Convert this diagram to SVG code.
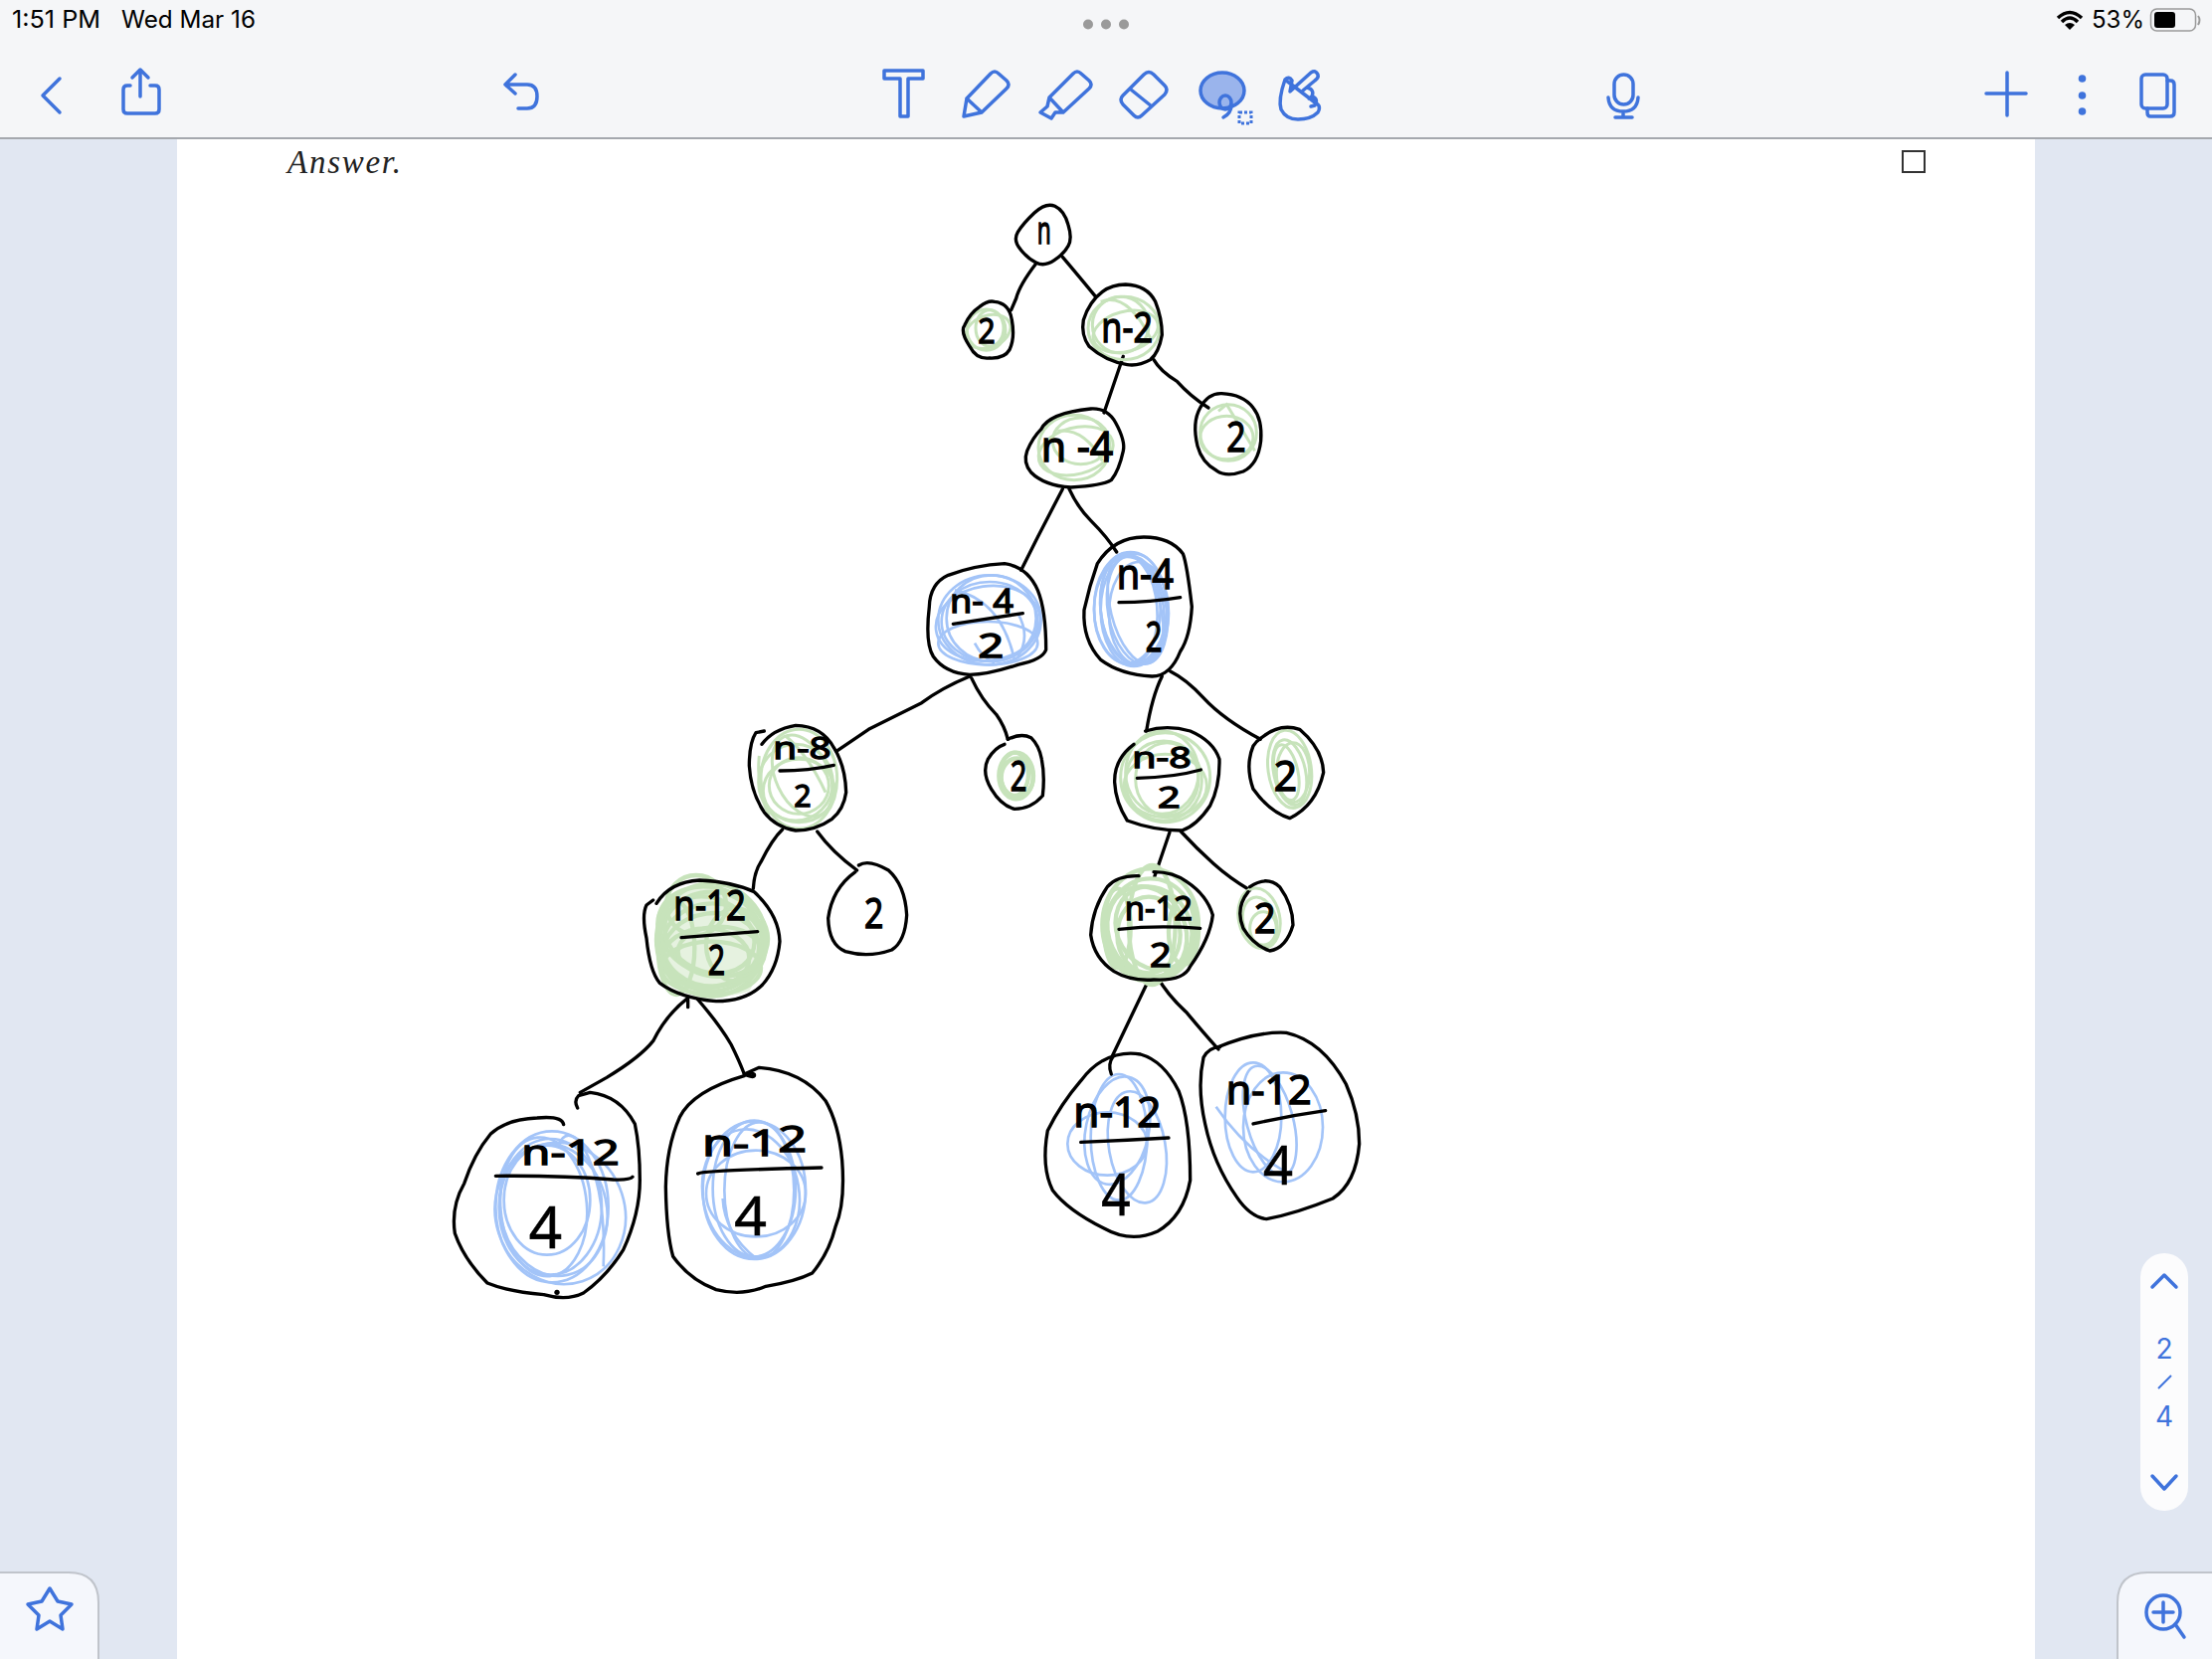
<svg xmlns="http://www.w3.org/2000/svg" width="2224" height="1668" viewBox="0 0 2224 1668">
<style>
.i{fill:none;stroke:#3f73dc;stroke-width:3.5;stroke-linecap:round;stroke-linejoin:round}
.ui{font-family:"Inter","Roboto",sans-serif;fill:#000}
.pg{font-family:"Inter","Roboto",sans-serif;fill:#3f73dc;font-size:28px;text-anchor:middle}
.o{fill:none;stroke:#000;stroke-width:10;stroke-linecap:round;stroke-linejoin:round}
.g ellipse,.g path{fill:none;stroke:#c7e3bb;stroke-width:9}
.b ellipse,.b path{fill:none;stroke:#a3c4f8;stroke-width:8}
.d ellipse{stroke-width:13}
.t{font-family:"Noto Sans",sans-serif;fill:#000;stroke:#000;stroke-width:4;font-size:125px}
</style>
<rect x="0" y="0" width="2224" height="1668" fill="#e1e7f2"/>
<rect x="178" y="139" width="1868" height="1529" fill="#fff"/>
<rect x="0" y="0" width="2224" height="139" fill="#f5f6f8"/>
<rect x="0" y="138" width="2224" height="2" fill="#a5a8ae"/>
<g id="status">
<text class="ui" x="12" y="28" font-size="24" textLength="89" lengthAdjust="spacingAndGlyphs">1:51 PM</text>
<text class="ui" x="122" y="28" font-size="24" textLength="135" lengthAdjust="spacingAndGlyphs">Wed Mar 16</text>
<circle cx="1094" cy="24.5" r="5" fill="#9a9a9a"/><circle cx="1112" cy="24.5" r="5" fill="#9a9a9a"/><circle cx="1130" cy="24.5" r="5" fill="#9a9a9a"/>
<path d="M2069,18 Q2081,7 2093,18 M2073,22 Q2081,14 2089,22" fill="none" stroke="#000" stroke-width="3.5"/><path d="M2076,25 Q2081,21 2086,25 L2081,30Z" fill="#000"/>
<text class="ui" x="2103" y="28" font-size="24" textLength="53" lengthAdjust="spacingAndGlyphs">53%</text>
<rect x="2162.5" y="9" width="45" height="22" rx="6" fill="none" stroke="#9a9a9a" stroke-width="1.5"/>
<rect x="2166" y="12" width="21" height="16" rx="3" fill="#000"/>
<path d="M2210,16 Q2213,20 2210,25" fill="none" stroke="#9a9a9a" stroke-width="2"/>
</g>
<g id="toolbar">
<path class="i" d="M60,79 L43,96 L60,113"/>
<path class="i" d="M141,97 V70 M133,78 L141,70 L149,78 M131,86 H128 Q124,86 124,90 V110 Q124,114 128,114 H156 Q160,114 160,110 V90 Q160,86 156,86 H151"/>
<path class="i" d="M518,75 L508,85 L518,94 M508,85 H530 Q540,85 540,97 Q540,109 530,109 H521"/>
<path class="i" d="M889,71 H928 V79 H913 V117 H905 V79 H889Z"/>
<path class="i" d="M972,99 L996,74 Q1000,70 1004,74 L1012,81 Q1016,85 1012,89 L987,113 L969,117 Z M972,99 L987,113"/>
<path class="i" d="M1055,98 L1079,74 Q1083,70 1087,74 L1095,81 Q1099,85 1095,89 L1069,113 L1061,113 L1057,119 L1046,113 L1053,107 Z M1055,98 L1069,113"/>
<path class="i" d="M1150,75 Q1155,70 1160,75 L1171,86 Q1175,90 1171,95 L1148,116 Q1144,120 1140,116 L1129,105 Q1125,100 1129,96 Z M1137,90 L1158,107"/>
<ellipse cx="1229" cy="91" rx="22" ry="18" fill="#9ab4ec" stroke="#3f73dc" stroke-width="3.5"/>
<ellipse class="i" cx="1232" cy="103" rx="6" ry="7"/><path class="i" d="M1238,105 Q1238,114 1230,118"/>
<rect x="1246" y="113" width="12" height="11" fill="none" stroke="#3f73dc" stroke-width="3" stroke-dasharray="3 2"/>
<path class="i" d="M1292,80 Q1296,76 1299,81 L1297,92 L1318,73 Q1323,70 1325,75 Q1326,78 1322,81 L1310,91 M1314,88 Q1322,90 1319,97 L1316,99 M1319,97 Q1326,99 1322,106 L1318,107 M1322,103 Q1329,106 1325,113 Q1318,120 1305,120 Q1293,120 1288,110 Q1285,100 1292,80Z"/>
<rect class="i" x="1623" y="75" width="19" height="30" rx="9.5"/>
<path class="i" d="M1617,98 Q1618,112 1632,112 Q1646,112 1647,98 M1632,112 V118 M1624,118 H1641"/>
<path class="i" d="M2018,73 V116 M1997,94 H2037"/>
<circle cx="2093.5" cy="79" r="3.8" fill="#3f73dc"/><circle cx="2093.5" cy="96" r="3.8" fill="#3f73dc"/><circle cx="2093.5" cy="112" r="3.8" fill="#3f73dc"/>
<rect class="i" x="2153" y="75" width="26" height="34" rx="4"/>
<path class="i" d="M2179,81 H2182 Q2186,81 2186,85 V113 Q2186,117 2182,117 H2162 Q2159,117 2159,113 V109"/>
</g>
<text x="289" y="174" font-family="'Liberation Serif',serif" font-style="italic" font-size="33" textLength="114" lengthAdjust="spacing" fill="#222">Answer.</text>
<rect x="1913" y="152" width="22" height="21" fill="none" stroke="#333" stroke-width="2"/>
<g id="page-indicator">
<rect x="2152" y="1260" width="48" height="259" rx="24" fill="#fcfcfd"/>
<path class="i" d="M2164,1294 L2176,1282 L2188,1294 M2164,1484 L2176,1497 L2188,1484"/>
<path d="M2170,1396 L2183,1383" stroke="#3f73dc" stroke-width="2" fill="none"/>
<text class="pg" x="2176" y="1366">2</text>
<text class="pg" x="2176" y="1434">4</text>
</g>
<g id="zoom-button">
<path d="M2224,1581 H2159 Q2129,1581 2129,1611 V1668 H2224Z" fill="#f5f7fc"/>
<path d="M2224,1581 H2159 Q2129,1581 2129,1611 V1668" fill="none" stroke="#c0c4cb" stroke-width="2"/>
<circle class="i" cx="2175" cy="1621" r="17"/>
<path class="i" d="M2165,1621 H2185 M2175,1611 V1631 M2187,1633 L2196,1646"/>
</g>
<g id="star-button">
<path d="M0,1581 H69 Q99,1581 99,1611 V1668 H0Z" fill="#f5f7fc"/>
<path d="M0,1581 H69 Q99,1581 99,1611 V1668" fill="none" stroke="#c0c4cb" stroke-width="2"/>
<path class="i" d="M50,1597 L58,1610 L72,1613 L61,1624 L63,1638 L50,1630 L37,1638 L39,1624 L28,1613 L42,1610Z"/>
</g>

<g id="connectors">
<g transform="translate(900,190) scale(.33333)">
<path class="o" d="M425,225 Q375,290 365,330 L350,365"/>
<path class="o" d="M505,205 Q560,270 605,325"/>
<path class="o" d="M688,505 L630,675"/>
<path class="o" d="M780,515 Q800,550 850,580 Q890,625 945,660"/>
<path class="o" d="M505,905 L430,1050 L380,1150"/>
<path class="o" d="M525,905 Q550,960 590,1000 Q640,1050 668,1095"/>
</g>
<g transform="translate(640,680) scale(.33333)">
<path class="o" d="M1005,0 Q920,35 860,80 Q770,125 700,160 L605,225"/>
<path class="o" d="M1010,5 Q1040,70 1085,115 Q1110,150 1120,190"/>
<path class="o" d="M440,462 Q410,490 375,560 Q355,590 352,640"/>
<path class="o" d="M545,468 Q590,530 665,585"/>
</g>
<g transform="translate(1080,670) scale(.33333)">
<path class="o" d="M265,30 Q235,90 218,195"/>
<path class="o" d="M290,15 Q340,40 390,95 Q450,160 562,220"/>
<path class="o" d="M288,500 L242,635"/>
<path class="o" d="M322,498 Q370,550 420,595 Q470,640 530,675"/>
</g>
<g transform="translate(430,980) scale(.33333)">
<path class="o" d="M785,70 Q720,120 680,200 Q640,250 540,310 L460,355"/>
<path class="o" d="M785,75 V98"/>
<path class="o" d="M815,75 Q880,150 915,210 Q940,260 955,300"/>
</g>
<g transform="translate(1030,960) scale(.33333)">
<path class="o" d="M375,75 Q320,190 265,305"/>
<path class="o" d="M400,65 Q430,120 490,175 Q540,235 585,285"/>
</g>
</g>

<g id="node-n" transform="translate(900,190) scale(.33333)">
<text class="t" x="428" y="165" style="font-size:115px" textLength="42" lengthAdjust="spacingAndGlyphs">n</text>
<path class="o" d="M482,52 Q510,65 522,108 Q535,150 522,172 Q510,195 480,215 Q450,235 425,222 Q400,210 378,182 Q355,155 370,130 Q385,105 420,72 Q455,40 482,52Z"/>
</g>
<g id="node-2a" transform="translate(900,190) scale(.33333)">
<g class="g"><ellipse cx="275" cy="425" rx="58" ry="62"/><ellipse cx="280" cy="430" rx="70" ry="48" transform="rotate(-20 280 430)"/><ellipse cx="285" cy="420" rx="42" ry="55"/></g>
<text class="t" x="250" y="465" style="font-size:105px" textLength="52" lengthAdjust="spacingAndGlyphs">2</text>
<path class="o" d="M300,340 Q345,345 352,395 Q362,450 345,485 Q330,512 285,510 Q245,515 225,475 Q195,430 210,410 Q225,375 255,355 Q280,335 300,340Z"/>
</g>
<g id="node-n-2" transform="translate(900,190) scale(.33333)">
<g class="g"><ellipse cx="690" cy="420" rx="108" ry="95"/><ellipse cx="680" cy="410" rx="85" ry="85"/><ellipse cx="695" cy="430" rx="100" ry="60" transform="rotate(-15 695 430)"/><path d="M620,340 Q700,310 770,450"/></g>
<text class="t" x="622" y="462" textLength="155" lengthAdjust="spacingAndGlyphs">n-2</text>
<path class="o" d="M695,288 Q760,290 785,340 Q805,390 805,440 Q795,495 770,515 Q735,535 700,530 Q635,520 585,475 Q560,440 568,395 Q585,340 625,310 Q655,288 695,288Z"/>
</g>
<g id="node-2b" transform="translate(900,190) scale(.33333)">
<g class="g"><ellipse cx="1005" cy="735" rx="85" ry="85"/><ellipse cx="1000" cy="750" rx="80" ry="65"/><path d="M975,670 L1000,650 L1085,790"/></g>
<text class="t" x="1000" y="792" textLength="58" lengthAdjust="spacingAndGlyphs">2</text>
<path class="o" d="M985,617 Q1050,620 1080,660 Q1108,695 1103,760 Q1095,830 1050,852 Q1000,870 970,850 Q925,825 912,775 Q895,705 920,660 Q945,615 985,617Z"/>
</g>
<g id="node-n-4" transform="translate(900,190) scale(.33333)">
<g class="g"><ellipse cx="540" cy="780" rx="108" ry="98"/><ellipse cx="545" cy="790" rx="115" ry="70" transform="rotate(-15 545 790)"/><ellipse cx="560" cy="760" rx="85" ry="70"/><path d="M490,730 Q570,720 625,820"/></g>
<text class="t" x="440" y="822" textLength="218" lengthAdjust="spacingAndGlyphs">n -4</text>
<path class="o" d="M590,663 Q640,660 665,705 Q695,760 688,790 Q675,850 652,878 Q625,895 530,900 Q450,895 410,855 Q385,825 398,790 Q415,750 440,725 Q465,675 590,663Z"/>
</g>
<g id="node-n-4-2a" transform="translate(900,190) scale(.33333)">
<g class="b"><ellipse cx="285" cy="1300" rx="155" ry="135"/><ellipse cx="285" cy="1305" rx="145" ry="120"/><ellipse cx="280" cy="1310" rx="158" ry="112" transform="rotate(-8 280 1310)"/><ellipse cx="290" cy="1295" rx="135" ry="130"/><ellipse cx="280" cy="1370" rx="150" ry="65"/><path d="M180,1210 Q320,1240 360,1420 M370,1280 Q410,1350 370,1410 M240,1370 Q260,1410 300,1430"/></g>
<text class="t" x="165" y="1277" style="font-size:98px" textLength="192" lengthAdjust="spacingAndGlyphs">n- 4</text>
<path class="o" d="M175,1312 L385,1280"/>
<text class="t" x="250" y="1412" style="font-size:98px" textLength="78" lengthAdjust="spacingAndGlyphs">2</text>
<path class="o" d="M330,1130 Q400,1140 430,1210 Q455,1270 455,1390 Q445,1420 370,1435 Q280,1465 225,1465 Q150,1460 115,1410 Q90,1370 103,1260 Q105,1190 160,1165 Q240,1135 330,1130Z"/>
</g>
<g id="node-n-4-2b" transform="translate(900,190) scale(.33333)">
<g class="b"><ellipse cx="710" cy="1265" rx="110" ry="170"/><ellipse cx="715" cy="1270" rx="95" ry="165" transform="rotate(-8 715 1270)"/><ellipse cx="705" cy="1265" rx="85" ry="165" transform="rotate(-5 705 1265)"/><ellipse cx="720" cy="1270" rx="100" ry="170"/><ellipse cx="725" cy="1265" rx="75" ry="170" transform="rotate(-14 725 1265)"/><ellipse cx="730" cy="1270" rx="88" ry="165" transform="rotate(-10 730 1270)"/><ellipse cx="700" cy="1270" rx="100" ry="160"/><ellipse cx="735" cy="1280" rx="90" ry="155"/></g>
<text class="t" x="668" y="1207" textLength="172" lengthAdjust="spacingAndGlyphs">n-4</text>
<path class="o" d="M675,1247 Q770,1247 860,1232"/>
<text class="t" x="755" y="1395" textLength="50" lengthAdjust="spacingAndGlyphs">2</text>
<path class="o" d="M750,1050 Q830,1050 868,1100 Q880,1130 895,1260 Q890,1350 860,1395 Q830,1470 775,1470 Q680,1465 620,1420 Q565,1360 570,1270 Q585,1200 610,1130 Q660,1050 750,1050Z"/>
</g>

<g id="node-n-8-2a" transform="translate(640,680) scale(.33333)">
<g class="g"><ellipse cx="490" cy="310" rx="115" ry="150"/><ellipse cx="480" cy="320" rx="112" ry="115"/><ellipse cx="500" cy="300" rx="80" ry="130" transform="rotate(-25 500 300)"/><ellipse cx="490" cy="330" rx="90" ry="85"/><ellipse cx="490" cy="345" rx="108" ry="95"/><path d="M370,240 Q360,340 400,420 M450,180 Q520,240 570,350"/></g>
<text class="t" x="412" y="250" style="font-size:94px" textLength="175" lengthAdjust="spacingAndGlyphs">n-8</text>
<path class="o" d="M432,285 Q520,285 595,268"/>
<text class="t" x="475" y="392" style="font-size:94px" textLength="52" lengthAdjust="spacingAndGlyphs">2</text>
<path class="o" d="M378,205 Q410,160 480,148 Q560,150 595,215 Q630,270 632,350 Q625,400 590,430 Q540,465 480,465 Q420,455 385,410 Q345,350 340,270 Q340,200 360,170 L385,165"/>
</g>
<g id="node-2c" transform="translate(640,680) scale(.33333)">
<g class="g d"><ellipse cx="1145" cy="300" rx="52" ry="70"/><ellipse cx="1140" cy="295" rx="42" ry="65"/><ellipse cx="1148" cy="305" rx="48" ry="58"/></g>
<text class="t" x="1127" y="345" textLength="50" lengthAdjust="spacingAndGlyphs">2</text>
<path class="o" d="M1120,190 Q1160,170 1190,185 Q1215,210 1222,250 Q1232,300 1225,360 Q1190,400 1140,400 Q1100,390 1070,340 Q1040,290 1060,250 Q1080,215 1110,205"/>
</g>
<g id="node-2d" transform="translate(640,680) scale(.33333)">
<text class="t" x="687" y="760" textLength="58" lengthAdjust="spacingAndGlyphs">2</text>
<path class="o" d="M670,570 Q700,550 760,585 Q810,630 815,720 Q810,800 770,825 Q700,850 630,830 Q580,810 578,730 Q590,640 660,590"/>
</g>
<g id="node-n-12-2a" transform="translate(640,680) scale(.33333)">
<path d="M60,720 Q120,640 200,635 Q330,650 380,760 Q395,860 340,950 Q250,980 130,950 Q70,900 60,720Z" fill="#c7e3bb" opacity=".45"/>
<g class="g d"><ellipse cx="225" cy="795" rx="165" ry="170"/><ellipse cx="225" cy="800" rx="155" ry="150"/><ellipse cx="230" cy="810" rx="150" ry="125"/><ellipse cx="225" cy="825" rx="145" ry="110" transform="rotate(-8 225 825)"/><ellipse cx="230" cy="770" rx="170" ry="130" transform="rotate(20 230 770)"/><ellipse cx="220" cy="780" rx="140" ry="110" transform="rotate(25 220 780)"/><ellipse cx="210" cy="850" rx="130" ry="90"/><ellipse cx="250" cy="830" rx="125" ry="75"/><ellipse cx="180" cy="690" rx="90" ry="90"/><ellipse cx="120" cy="820" rx="55" ry="140"/><ellipse cx="225" cy="880" rx="150" ry="80"/><ellipse cx="300" cy="810" rx="90" ry="110"/></g>
<text class="t" x="112" y="735" textLength="218" lengthAdjust="spacingAndGlyphs">n-12</text>
<path class="o" d="M135,788 L365,770"/>
<text class="t" x="215" y="900" textLength="52" lengthAdjust="spacingAndGlyphs">2</text>
<path class="o" d="M60,685 Q100,620 190,615 Q290,620 355,650 Q430,720 432,800 Q425,880 380,930 Q330,980 240,980 Q130,970 70,925 Q40,890 30,790 Q15,720 30,690 L50,675"/>
</g>

<g id="node-n-8-2b" transform="translate(1080,670) scale(.33333)">
<g class="g"><ellipse cx="275" cy="335" rx="135" ry="135"/><ellipse cx="270" cy="345" rx="115" ry="120"/><ellipse cx="280" cy="340" rx="95" ry="110"/><ellipse cx="275" cy="360" rx="125" ry="95"/><ellipse cx="265" cy="320" rx="110" ry="125"/></g>
<text class="t" x="175" y="305" style="font-size:87px" textLength="178" lengthAdjust="spacingAndGlyphs">n-8</text>
<path class="o" d="M190,337 Q300,335 382,312"/>
<text class="t" x="252" y="425" style="font-size:87px" textLength="68" lengthAdjust="spacingAndGlyphs">2</text>
<path class="o" d="M215,195 Q280,175 350,195 Q420,225 438,280 Q440,360 410,420 Q370,480 325,495 Q240,495 160,465 Q125,410 122,350 Q120,280 180,235"/>
</g>
<g id="node-2e" transform="translate(1080,670) scale(.33333)">
<g class="g"><ellipse cx="650" cy="310" rx="65" ry="118" transform="rotate(-8 650 310)"/><ellipse cx="650" cy="320" rx="48" ry="100" transform="rotate(-12 650 320)"/><ellipse cx="640" cy="320" rx="35" ry="85" transform="rotate(-12 640 320)"/><ellipse cx="660" cy="320" rx="50" ry="90"/></g>
<text class="t" x="602" y="375" textLength="70" lengthAdjust="spacingAndGlyphs">2</text>
<path class="o" d="M565,215 Q620,170 680,190 Q750,250 752,320 Q730,420 650,458 Q590,440 540,370 Q515,300 540,240 Q550,225 565,215Z"/>
</g>
<g id="node-n-12-2b" transform="translate(1080,670) scale(.33333)">
<g class="g d"><ellipse cx="230" cy="780" rx="145" ry="170"/><ellipse cx="230" cy="790" rx="135" ry="150"/><ellipse cx="220" cy="800" rx="115" ry="140" transform="rotate(-25 220 800)"/><ellipse cx="240" cy="790" rx="110" ry="130" transform="rotate(-30 240 790)"/><ellipse cx="225" cy="810" rx="95" ry="115"/><ellipse cx="235" cy="780" rx="70" ry="180"/><ellipse cx="130" cy="790" rx="40" ry="120"/><ellipse cx="330" cy="800" rx="45" ry="100"/></g>
<text class="t" x="152" y="765" style="font-size:100px" textLength="205" lengthAdjust="spacingAndGlyphs">n-12</text>
<path class="o" d="M135,793 Q250,780 380,790"/>
<text class="t" x="228" y="905" style="font-size:100px" textLength="65" lengthAdjust="spacingAndGlyphs">2</text>
<path class="o" d="M195,632 Q130,630 100,665 Q55,730 50,810 Q60,880 120,920 Q170,950 240,945 Q330,950 350,905 Q410,820 418,750 Q400,690 340,650 Q300,620 240,620"/>
</g>
<g id="node-2f" transform="translate(1080,670) scale(.33333)">
<g class="g"><ellipse cx="558" cy="760" rx="62" ry="92" transform="rotate(-12 558 760)"/><ellipse cx="560" cy="770" rx="50" ry="75" transform="rotate(-15 560 770)"/><ellipse cx="570" cy="790" rx="40" ry="50"/></g>
<text class="t" x="543" y="805" textLength="65" lengthAdjust="spacingAndGlyphs">2</text>
<path class="o" d="M530,665 Q580,630 620,665 Q660,720 660,780 Q640,850 590,858 Q540,840 510,790 Q485,730 525,680"/>
</g>

<g id="node-n-12-4a" transform="translate(430,980) scale(.33333)">
<g class="b"><ellipse cx="375" cy="700" rx="170" ry="228"/><ellipse cx="370" cy="700" rx="155" ry="205"/><ellipse cx="380" cy="710" rx="160" ry="200" transform="rotate(-12 380 710)"/><ellipse cx="360" cy="680" rx="130" ry="165"/><ellipse cx="400" cy="720" rx="195" ry="215" transform="rotate(-18 400 720)"/><ellipse cx="350" cy="700" rx="130" ry="210" transform="rotate(-5 350 700)"/><path d="M390,520 Q420,450 470,520 Q540,650 530,880"/></g>
<text class="t" x="283" y="572" style="font-size:105px" textLength="295" lengthAdjust="spacingAndGlyphs">n-12</text>
<path class="o" d="M205,607 Q400,605 560,618 Q610,620 618,610"/>
<text class="t" x="305" y="825" style="font-size:175px;stroke-width:2" textLength="100" lengthAdjust="spacingAndGlyphs">4</text>
<path class="o" d="M410,452 Q405,425 330,432 Q240,435 190,480 Q140,540 110,630 Q70,700 82,780 Q110,860 180,930 Q240,955 350,965 Q420,985 470,960 Q540,910 590,830 Q640,720 640,620 Q640,520 625,450 Q580,365 490,355 L455,365 Q440,380 452,402"/>
<circle cx="390" cy="958" r="8" fill="#000"/>
</g>
<g id="node-n-12-4b" transform="translate(430,980) scale(.33333)">
<g class="b"><ellipse cx="985" cy="650" rx="155" ry="208"/><ellipse cx="985" cy="645" rx="125" ry="205"/><ellipse cx="975" cy="660" rx="145" ry="195" transform="rotate(-10 975 660)"/><ellipse cx="1000" cy="650" rx="105" ry="205"/><ellipse cx="990" cy="660" rx="150" ry="130"/><path d="M890,675 Q895,780 990,855"/></g>
<text class="t" x="828" y="545" style="font-size:110px" textLength="315" lengthAdjust="spacingAndGlyphs">n-1<tspan dy="-12">2</tspan></text>
<path class="o" d="M815,600 Q830,590 1188,582"/>
<text class="t" x="925" y="785" style="font-size:165px;stroke-width:2" textLength="98" lengthAdjust="spacingAndGlyphs">4</text>
<path class="o" d="M955,300 Q990,315 985,300 Q960,290 955,305 Q800,350 760,430 Q720,520 718,640 Q720,780 740,850 Q790,920 870,950 Q950,970 1020,940 Q1110,925 1160,900 Q1210,840 1230,760 Q1260,690 1250,560 Q1240,450 1200,380 Q1130,290 1000,280 L955,300"/>
</g>

<g id="node-n-12-4c" transform="translate(1030,960) scale(.33333)">
<g class="b"><ellipse cx="285" cy="550" rx="85" ry="190"/><ellipse cx="340" cy="580" rx="85" ry="170" transform="rotate(-10 340 580)"/><ellipse cx="250" cy="570" rx="120" ry="95"/><ellipse cx="280" cy="530" rx="95" ry="165" transform="rotate(12 280 530)"/></g>
<text class="t" x="148" y="520" style="font-size:125px" textLength="264" lengthAdjust="spacingAndGlyphs">n-12</text>
<path class="o" d="M170,565 Q300,560 435,552"/>
<text class="t" x="232" y="785" style="font-size:175px;stroke-width:2" textLength="88" lengthAdjust="spacingAndGlyphs">4</text>
<path class="o" d="M235,320 Q290,290 350,300 Q420,320 465,410 Q500,500 500,680 Q480,790 400,835 Q320,870 240,825 Q130,770 85,710 Q50,640 70,530 Q110,450 170,380 Q200,340 235,320Z"/>
<path class="o" d="M268,305 Q250,330 262,360"/>
</g>
<g id="node-n-12-4d" transform="translate(1030,960) scale(.33333)">
<g class="b"><ellipse cx="690" cy="490" rx="85" ry="165"/><ellipse cx="740" cy="500" rx="70" ry="170" transform="rotate(-15 740 500)"/><ellipse cx="780" cy="520" rx="120" ry="165"/><path d="M578,458 Q660,580 780,650"/></g>
<text class="t" x="608" y="450" style="font-size:120px" textLength="258" lengthAdjust="spacingAndGlyphs">n-12</text>
<path class="o" d="M690,510 Q800,485 908,470"/>
<text class="t" x="720" y="692" style="font-size:165px;stroke-width:2" textLength="90" lengthAdjust="spacingAndGlyphs">4</text>
<path class="o" d="M580,280 Q700,230 790,235 Q900,260 970,390 Q1010,480 1010,570 Q1000,690 930,735 Q820,780 730,797 Q680,790 640,730 Q570,630 545,510 Q520,400 540,310 Q555,280 590,278"/>
</g>
</svg>
